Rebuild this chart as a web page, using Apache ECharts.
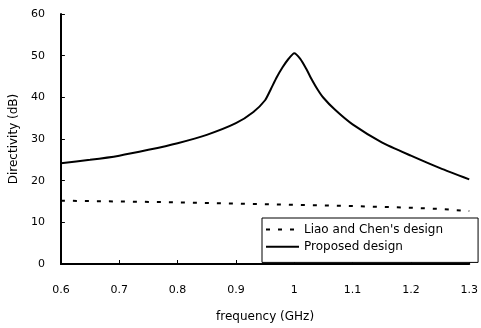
<!DOCTYPE html>
<html>
<head>
<meta charset="utf-8">
<script src="https://cdn.jsdelivr.net/npm/echarts@6/dist/echarts.min.js"></script>
<style>
  html, body { margin: 0; padding: 0; background: #fff; }
  #main { width: 481px; height: 328px; }
</style>
</head>
<body>
<div id="main"></div>
<script>
// frequency (GHz) and directivity (dB)
const proposedFreq = [0.6, 0.65, 0.7, 0.75, 0.8, 0.85, 0.9, 0.93, 0.95, 0.96, 0.97, 0.98, 0.99, 1.0, 1.01, 1.02, 1.03, 1.04, 1.05, 1.07, 1.1, 1.15, 1.2, 1.25, 1.3];
const proposedDir = [24.2, 25.0, 26.0, 27.4, 29.0, 31.0, 33.8, 36.5, 39.3, 42.0, 44.8, 47.2, 49.2, 50.6, 49.3, 47.0, 44.3, 41.9, 39.9, 37.0, 33.5, 29.2, 26.0, 23.0, 20.3];

const liaoFreq = [0.6, 0.7, 0.8, 0.9, 1.0, 1.1, 1.2, 1.25, 1.3];
const liaoDir = [15.2, 15.0, 14.8, 14.5, 14.2, 13.9, 13.5, 13.2, 12.7];

const seriesNames = ["Liao and Chen's design", 'Proposed design'];

const toPairs = (xs, ys) => xs.map((x, i) => [x, ys[i]]);

const font = 'DejaVu Sans';
let myChart = echarts.init(document.getElementById('main'), null, {renderer: 'canvas'});
myChart.setOption({
  animation: false,
  backgroundColor: '#fff',
  grid: {left: 60, right: 11, top: 14, bottom: 60},
  legend: {
    orient: 'vertical',
    left: 262,
    top: 218,
    data: seriesNames,
    itemWidth: 33,
    itemHeight: 14,
    itemGap: 4,
    padding: [5, 35, 9, 3],
    borderColor: '#000',
    borderWidth: 1,
    backgroundColor: '#fff',
    itemStyle: {opacity: 0},
    textStyle: {fontFamily: font, fontSize: 12, color: '#000'}
  },
  xAxis: {
    type: 'value',
    min: 0.6,
    max: 1.3,
    interval: 0.1,
    name: 'frequency (GHz)',
    nameLocation: 'middle',
    nameGap: 47,
    nameTextStyle: {fontFamily: font, fontSize: 12, color: '#000'},
    axisLine: {lineStyle: {color: '#000', width: 2}},
    axisTick: {inside: true, length: 4, lineStyle: {color: '#000'}},
    axisLabel: {fontFamily: font, fontSize: 11, color: '#000', margin: 21},
    splitLine: {show: false}
  },
  yAxis: {
    type: 'value',
    min: 0,
    max: 60,
    interval: 10,
    name: 'Directivity (dB)',
    nameLocation: 'middle',
    nameGap: 37,
    nameTextStyle: {fontFamily: font, fontSize: 12, color: '#000'},
    axisLine: {show: true, lineStyle: {color: '#000', width: 2}},
    axisTick: {show: true, inside: true, length: 4, lineStyle: {color: '#000'}},
    axisLabel: {fontFamily: font, fontSize: 11, color: '#000', margin: 16},
    splitLine: {show: false}
  },
  series: [{
    name: seriesNames[0],
    type: 'line',
    data: toPairs(liaoFreq, liaoDir),
    showSymbol: false,
    z: 1,
    lineStyle: {color: '#000', width: 2, type: [4, 8]},
    itemStyle: {color: '#000'}
  }, {
    name: seriesNames[1],
    type: 'line',
    data: toPairs(proposedFreq, proposedDir),
    smooth: 0.2,
    showSymbol: false,
    lineStyle: {color: '#000', width: 2},
    itemStyle: {color: '#000'}
  }]
});
</script>
</body>
</html>
